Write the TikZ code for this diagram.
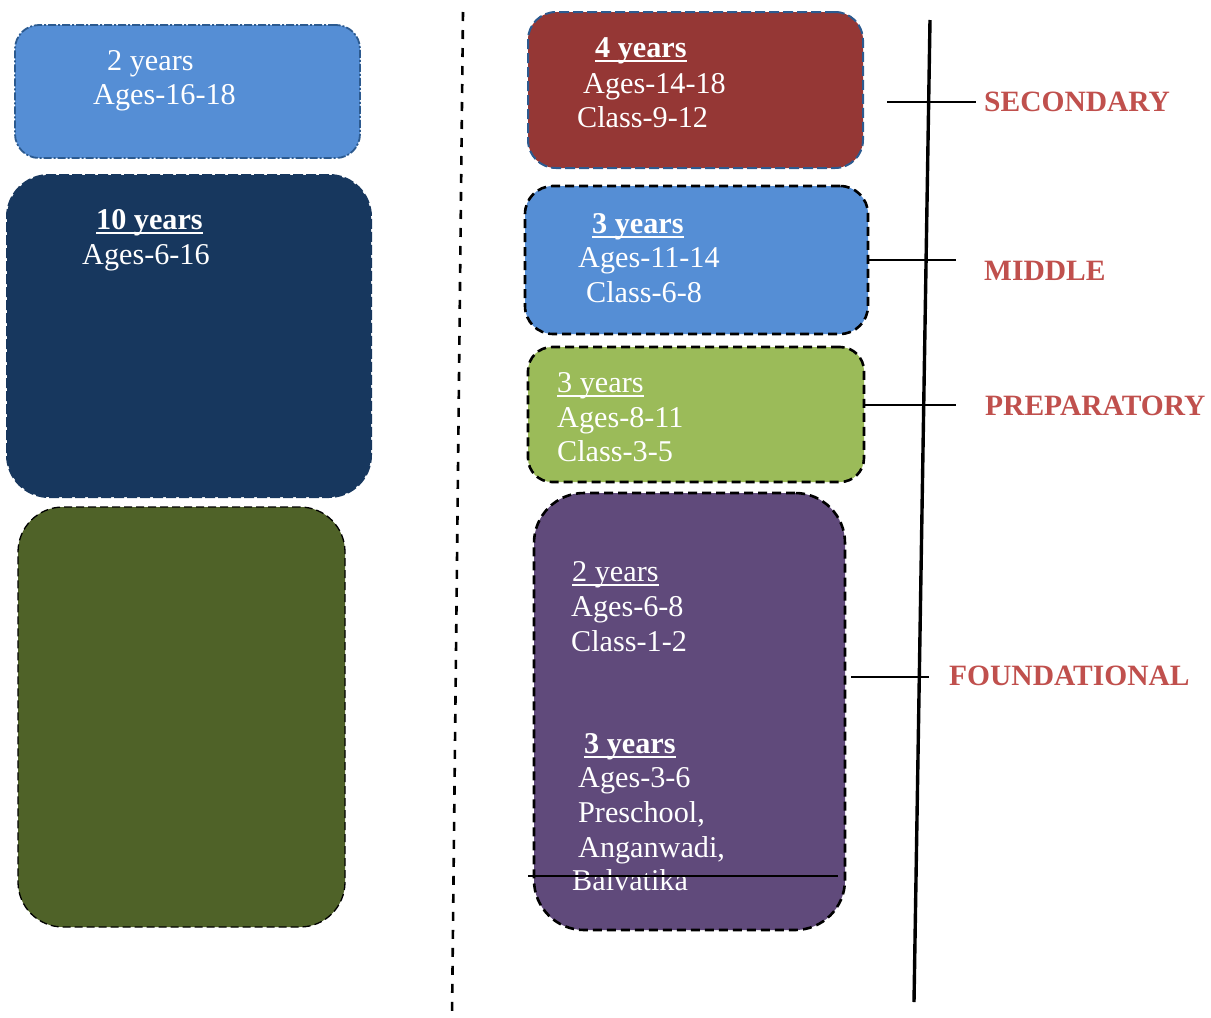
\documentclass[tikz,border=0pt]{standalone}
\usepackage{fontspec}
\setmainfont{Liberation Serif}
\definecolor{lblue}{HTML}{558ED5}
\definecolor{navy}{HTML}{17375E}
\definecolor{olive}{HTML}{4F6228}
\definecolor{brick}{HTML}{953735}
\definecolor{lgreen}{HTML}{9BBB59}
\definecolor{purp}{HTML}{604A7B}
\definecolor{labred}{HTML}{C0504D}
\definecolor{edgeblue}{HTML}{2C5A8F}
\newcommand\bodyfont{\fontsize{30.2}{34}\selectfont}
\newcommand\labfont{\fontsize{29.5}{34}\selectfont\bfseries}
\newsavebox\ulbox
\newcommand\myul[1]{\sbox\ulbox{#1}\rlap{\rule[-4.5pt]{\wd\ulbox}{2pt}}\usebox\ulbox}
\tikzset{
  box/.style={rectangle, anchor=north west, inner sep=0pt, outer sep=0pt},
  blackdash/.style={draw=black, line width=2.6pt, dash pattern=on 9pt off 5pt},
  txt/.style={anchor=base west, inner sep=0pt, text=white, font=\bodyfont},
  lvl/.style={anchor=base west, inner sep=0pt, text=labred, font=\labfont},
  tickline/.style={line width=1.8pt},
}
\begin{document}
\begin{tikzpicture}[x=1pt,y=-1pt]
\useasboundingbox (0,0) rectangle (1211,1018);

% left column boxes
\node[box, fill=lblue, draw=edgeblue, line width=1.8pt, dash pattern=on 8pt off 2pt on 2pt off 2pt,
      rounded corners=24pt, minimum width=345pt, minimum height=133pt] (l1) at (15,25) {};
\node[box, fill=navy, draw=navy, line width=2pt, dash pattern=on 10pt off 3pt,
      rounded corners=42pt, minimum width=364pt, minimum height=322pt] (l2) at (7,175) {};
\node[box, fill=olive, draw=black, line width=1.3pt, dash pattern=on 8pt off 4pt,
      rounded corners=45pt, minimum width=327pt, minimum height=420pt] (l3) at (18,507) {};

% left texts
\node[txt] (l1a) at (107,70) {2 years};
\node[txt] (l1b) at (93,104) {Ages-16-18};
\node[txt] (l2a) at (96,229) {\bfseries\myul{10 years}};
\node[txt] (l2b) at (82,264) {Ages-6-16};

% dashed separator
\coordinate (septop) at (463,12);
\coordinate (sepbot) at (452,1018);
\draw[line width=2.6pt, dash pattern=on 9pt off 9pt] (septop) -- (sepbot);

% right column boxes
\node[box, fill=brick, draw=edgeblue, line width=2pt, dash pattern=on 10pt off 4pt,
      rounded corners=28pt, minimum width=335pt, minimum height=156pt] (ra) at (528,12) {};
\node[box, fill=lblue, blackdash, rounded corners=28pt,
      minimum width=343pt, minimum height=148pt] (rb) at (525,186) {};
\node[box, fill=lgreen, blackdash, rounded corners=24pt,
      minimum width=336pt, minimum height=135pt] (rc) at (528,347) {};
\node[box, fill=purp, blackdash, rounded corners=50pt,
      minimum width=311pt, minimum height=437pt] (rd) at (534,493) {};

% right texts
\node[txt] (raa) at (595,57) {\bfseries\myul{4 years}};
\node[txt] (rab) at (583,93) {Ages-14-18};
\node[txt] (rac) at (577,127) {Class-9-12};

\node[txt] (rba) at (592,233) {\bfseries\myul{3 years}};
\node[txt] (rbb) at (578,267) {Ages-11-14};
\node[txt] (rbc) at (586,302) {Class-6-8};

\node[txt] (rca) at (557,392) {\myul{3 years}};
\node[txt] (rcb) at (557,427) {Ages-8-11};
\node[txt] (rcc) at (557,461) {Class-3-5};

\node[txt] (rda) at (572,581) {\myul{2 years}};
\node[txt] (rdb) at (571,616) {Ages-6-8};
\node[txt] (rdc) at (571,651) {Class-1-2};
\node[txt] (rdd) at (584,753) {\bfseries\myul{3 years}};
\node[txt] (rde) at (578,787) {Ages-3-6};
\node[txt] (rdf) at (578,822) {Preschool,};
\node[txt] (rdg) at (578,857) {Anganwadi,};
\node[txt] (rdh) at (572,890) {Balvatika};

% stray line across purple box
\coordinate (strayL) at (528,876);
\coordinate (strayR) at (838,876);
\draw[line width=1.4pt] (strayL) -- (strayR);

% vertical axis
\coordinate (axtop) at (930,20);
\coordinate (axbot) at (914,1002);
\draw[line width=3.4pt] (axtop) -- (axbot);

% ticks
\coordinate (t1a) at (887,102);
\coordinate (t1b) at (976,102);
\draw[tickline] (t1a) -- (t1b);
\coordinate (t2b) at (956,260);
\draw[tickline] (rb.east |- t2b) -- (t2b);
\coordinate (t3b) at (956,405);
\draw[tickline] (rc.east |- t3b) -- (t3b);
\coordinate (t4a) at (851,677);
\coordinate (t4b) at (929,677);
\draw[tickline] (t4a) -- (t4b);

% level labels
\node[lvl] (sec) at (984,111) {SECONDARY};
\node[lvl] (mid) at (984,280) {MIDDLE};
\node[lvl] (prep) at (985,415) {PREPARATORY};
\node[lvl] (found) at (949,685) {FOUNDATIONAL};
\end{tikzpicture}
\end{document}
